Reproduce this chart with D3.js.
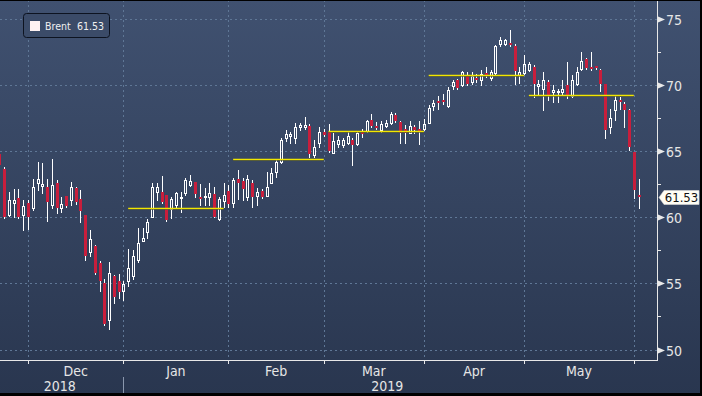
<!DOCTYPE html>
<html>
<head>
<meta charset="utf-8">
<script src="https://cdn.jsdelivr.net/npm/d3@7"></script>
<style>
  body { margin: 0; background: #000; }
  svg text { font-family: "Liberation Sans Narrow", "DejaVu Sans Condensed", "Arial Narrow", sans-serif; }
</style>
</head>
<body>
<div id="chart"></div>
<script>
"use strict"

// trading days on the chart
const dates = [
  "2018-11-23","2018-11-26","2018-11-27","2018-11-28","2018-11-29","2018-11-30",
  "2018-12-03","2018-12-04","2018-12-05","2018-12-06","2018-12-07",
  "2018-12-10","2018-12-11","2018-12-12","2018-12-13","2018-12-14",
  "2018-12-17","2018-12-18","2018-12-19","2018-12-20","2018-12-21",
  "2018-12-24","2018-12-26","2018-12-27","2018-12-28","2018-12-31",
  "2019-01-02","2019-01-03","2019-01-04",
  "2019-01-07","2019-01-08","2019-01-09","2019-01-10","2019-01-11",
  "2019-01-14","2019-01-15","2019-01-16","2019-01-17","2019-01-18",
  "2019-01-21","2019-01-22","2019-01-23","2019-01-24","2019-01-25",
  "2019-01-28","2019-01-29","2019-01-30","2019-01-31",
  "2019-02-01",
  "2019-02-04","2019-02-05","2019-02-06","2019-02-07","2019-02-08",
  "2019-02-11","2019-02-12","2019-02-13","2019-02-14","2019-02-15",
  "2019-02-18","2019-02-19","2019-02-20","2019-02-21","2019-02-22",
  "2019-02-25","2019-02-26","2019-02-27","2019-02-28",
  "2019-03-01",
  "2019-03-04","2019-03-05","2019-03-06","2019-03-07","2019-03-08",
  "2019-03-11","2019-03-12","2019-03-13","2019-03-14","2019-03-15",
  "2019-03-18","2019-03-19","2019-03-20","2019-03-21","2019-03-22",
  "2019-03-25","2019-03-26","2019-03-27","2019-03-28","2019-03-29",
  "2019-04-01","2019-04-02","2019-04-03","2019-04-04","2019-04-05",
  "2019-04-08","2019-04-09","2019-04-10","2019-04-11","2019-04-12",
  "2019-04-15","2019-04-16","2019-04-17","2019-04-18",
  "2019-04-22","2019-04-23","2019-04-24","2019-04-25","2019-04-26",
  "2019-04-29","2019-04-30",
  "2019-05-01","2019-05-02","2019-05-03",
  "2019-05-06","2019-05-07","2019-05-08","2019-05-09","2019-05-10",
  "2019-05-13","2019-05-14","2019-05-15","2019-05-16","2019-05-17",
  "2019-05-20","2019-05-21","2019-05-22","2019-05-23","2019-05-24",
  "2019-05-27","2019-05-28","2019-05-29","2019-05-30","2019-05-31",
  "2019-06-03","2019-06-04"
];

const open = [
  64.80,63.60,60.17,61.04,61.42,60.17,
  61.04,60.67,62.60,62.35,62.25,
  60.92,62.55,60.67,61.60,61.30,
  62.17,61.35,60.17,57.40,57.83,
  56.53,55.02,52.21,55.57,55.20,
  54.39,55.15,55.52,
  56.73,58.16,58.91,60.04,61.92,
  61.92,61.67,60.59,60.92,61.42,
  61.80,62.42,62.63,61.50,61.50,
  61.55,61.75,59.84,61.20,
  61.95,
  61.05,62.88,62.73,61.55,62.60,
  61.60,62.00,61.62,62.60,63.43,
  64.18,66.01,66.11,66.01,66.77,
  66.77,66.87,64.68,65.61,
  66.44,
  66.39,64.86,65.51,65.44,65.61,
  65.86,65.51,66.44,66.52,67.32,
  66.87,66.57,66.87,67.07,67.70,
  67.19,66.62,66.37,66.77,66.62,
  66.65,67.12,68.37,68.75,68.83,
  68.37,69.88,70.33,69.95,70.71,
  70.21,70.53,70.38,70.91,
  70.53,70.88,73.04,73.04,73.14,
  72.89,70.71,
  70.88,71.13,71.35,
  69.88,69.70,70.21,69.45,69.45,
  69.45,69.95,69.13,70.03,71.21,
  71.96,71.35,71.39,71.08,70.03,
  66.82,68.07,68.83,68.57,68.12,
  64.93,61.67
];

const high = [
  65.00,63.80,61.92,62.10,62.10,61.30,
  61.30,62.85,64.18,64.11,62.85,
  64.36,62.80,61.55,61.60,62.68,
  62.25,62.05,60.17,59.04,57.91,
  56.65,55.30,56.58,55.65,55.72,
  55.15,57.58,57.53,
  59.16,59.16,59.84,62.55,62.55,
  63.10,61.67,61.55,61.92,61.92,
  62.93,63.18,62.68,62.48,62.17,
  62.55,62.30,61.55,62.55,
  62.45,
  62.93,63.55,62.93,63.18,62.80,
  62.17,62.10,63.43,63.68,64.36,
  66.01,66.57,66.44,67.12,67.07,
  67.57,67.02,65.86,66.77,
  66.62,
  67.02,66.32,66.11,66.01,66.44,
  66.01,66.44,66.69,67.37,67.77,
  67.19,67.27,67.37,67.95,67.87,
  67.27,66.94,67.27,66.94,67.27,
  67.40,68.45,68.83,69.13,69.33,
  69.83,70.38,70.46,71.03,70.96,
  70.96,70.83,71.08,71.35,
  71.08,72.97,73.59,73.47,74.10,
  73.09,71.35,
  72.21,71.71,71.46,
  70.33,70.96,70.33,69.95,69.70,
  70.33,71.71,70.71,71.35,72.46,
  72.04,72.46,71.39,71.21,70.03,
  68.20,69.13,69.08,68.70,68.20,
  64.93,62.85
];

const low = [
  63.80,59.95,60.09,60.04,59.91,59.04,
  59.11,60.54,62.05,61.85,59.74,
  60.67,60.34,60.42,60.79,60.92,
  60.99,59.66,56.78,57.03,55.72,
  54.39,51.88,51.56,53.51,53.89,
  53.77,54.77,55.32,
  56.58,58.16,58.41,59.97,61.30,
  61.04,59.71,59.91,60.79,60.42,
  61.67,62.35,61.55,60.92,60.92,
  60.92,60.04,59.79,60.80,
  60.75,
  60.75,61.35,61.30,61.30,60.79,
  60.92,61.42,61.60,62.55,63.05,
  64.11,65.76,65.56,65.56,66.57,
  66.69,64.56,64.56,65.31,
  66.11,
  64.93,64.86,65.31,65.31,65.51,
  63.93,65.44,66.06,66.44,66.77,
  66.69,66.44,66.77,67.02,67.19,
  65.56,65.56,66.32,66.37,65.51,
  66.57,67.07,68.12,68.20,68.52,
  68.33,69.70,69.70,69.88,69.95,
  70.08,70.21,69.95,70.58,
  70.33,70.83,72.89,72.97,72.89,
  70.08,70.13,
  70.83,71.03,69.08,
  69.30,68.12,68.83,68.70,68.70,
  69.33,68.96,69.08,69.95,71.08,
  71.21,71.08,71.21,69.53,66.01,
  66.32,67.32,68.20,66.77,65.06,
  61.42,60.67
];

const close = [
  63.93,59.99,61.30,61.30,60.04,60.84,
  60.04,62.25,62.85,62.50,61.17,
  62.42,60.67,60.99,60.84,62.25,
  61.17,60.49,57.08,58.33,55.77,
  55.15,51.93,55.77,53.97,54.32,
  54.97,56.15,57.08,
  58.03,58.41,59.66,62.30,62.30,
  61.17,59.79,61.35,61.80,61.55,
  62.80,62.75,61.72,61.40,61.60,
  61.85,60.04,61.35,61.65,
  61.00,
  62.80,62.60,62.10,62.85,61.55,
  61.92,61.50,62.30,63.35,64.18,
  65.86,66.27,66.27,66.82,66.94,
  66.94,64.76,65.26,66.44,
  66.19,
  65.01,65.76,65.86,65.86,66.11,
  65.44,66.32,66.27,67.27,66.87,
  66.77,67.02,67.12,67.82,67.27,
  66.32,66.32,66.87,66.57,66.52,
  67.02,68.27,68.62,68.62,68.70,
  69.63,70.21,69.78,70.96,70.08,
  70.63,70.33,70.83,70.71,
  70.96,72.89,73.39,73.34,72.97,
  71.03,70.96,
  71.59,71.59,70.08,
  70.08,70.38,69.13,69.63,69.50,
  69.70,69.22,70.38,70.96,71.79,
  71.28,71.21,71.28,70.03,66.57,
  67.52,68.88,68.70,68.12,65.26,
  62.05,61.53
];

// monthly average lines (yellow)
const avgStart = ["2019-01-03","2019-02-04","2019-03-04","2019-04-02","2019-05-02"];
const avgEnd   = ["2019-01-31","2019-03-01","2019-04-01","2019-05-01","2019-06-03"];
const avgLevel = [60.67, 64.36, 66.47, 70.71, 69.25];

// axis labels
const yTicks = [50, 55, 60, 65, 70, 75];
const yMinor = [52.5, 57.5, 62.5, 67.5, 72.5];
const monthNames = ["Dec", "Jan", "Feb", "Mar", "Apr", "May"];
const yearNames = ["2018", "2019"];
const seriesName = "Brent";
const lastValue = 61.53;

const width = 702, height = 396;
const plotRight = 657, plotBottom = 360;
const upColor = "#ffffff", downColor = "#c81e3c";
const gridColor = "#5f7796", axisColor = "#e8e8e8", textColor = "#e6e6e6";

const svg = d3.select("#chart")
  .append("svg")
    .attr("width", width)
    .attr("height", height);

// background gradient
const defs = svg.append("defs");
const grad = defs.append("linearGradient")
  .attr("id", "bg").attr("x1", 0).attr("y1", 0).attr("x2", 0).attr("y2", 1);
grad.append("stop").attr("offset", "0%").attr("stop-color", "#405170");
grad.append("stop").attr("offset", "100%").attr("stop-color", "#29364f");
defs.append("clipPath").attr("id", "plotclip")
  .append("rect").attr("x", 0).attr("y", 0).attr("width", plotRight).attr("height", plotBottom);

svg.append("rect")
  .attr("width", width).attr("height", height)
  .attr("fill", "url(#bg)");

// scales
const x = d3.scalePoint()
  .domain(dates)
  .range([-0.6, 638.6]);
const y = d3.scaleLinear()
  .domain([50, 75])
  .range([349.5, 18.5]);

const px = d => Math.round(x(d));
const py = v => Math.round(y(v));

// first trading day of each month -> month ticks
const monthStarts = dates.filter((d, i) => i > 0 && d.slice(0, 7) !== dates[i - 1].slice(0, 7));

// grid
const grid = svg.append("g");
grid.selectAll(".hgrid")
  .data(yTicks)
  .enter().append("line")
    .attr("x1", 0).attr("x2", plotRight)
    .attr("y1", d => py(d) + 0.5).attr("y2", d => py(d) + 0.5)
    .attr("stroke", gridColor).attr("stroke-dasharray", "2,3");
grid.selectAll(".vgrid")
  .data(monthStarts)
  .enter().append("line")
    .attr("x1", d => px(d) + 0.5).attr("x2", d => px(d) + 0.5)
    .attr("y1", 0).attr("y2", plotBottom)
    .attr("stroke", gridColor).attr("stroke-dasharray", "2,3");

// candles
const candles = dates.map((d, i) => ({date: d, o: open[i], h: high[i], l: low[i], c: close[i]}));
const plot = svg.append("g").attr("clip-path", "url(#plotclip)");

const cg = plot.selectAll(".candle")
  .data(candles)
  .enter().append("g");

cg.each(function(d) {
  const g = d3.select(this);
  const cx = px(d.date);
  const top = py(Math.max(d.o, d.c));
  const bot = py(Math.min(d.o, d.c));
  const up = d.c >= d.o;
  if (up) {
    g.append("line")
      .attr("x1", cx + 0.5).attr("x2", cx + 0.5)
      .attr("y1", py(d.h)).attr("y2", top)
      .attr("stroke", upColor);
    g.append("line")
      .attr("x1", cx + 0.5).attr("x2", cx + 0.5)
      .attr("y1", bot + 1).attr("y2", py(d.l) + 1)
      .attr("stroke", upColor);
    g.append("rect")
      .attr("x", cx - 0.5).attr("y", top + 0.5)
      .attr("width", 2).attr("height", Math.max(bot - top, 1))
      .attr("fill", "none").attr("stroke", upColor);
  } else {
    g.append("line")
      .attr("x1", cx + 0.5).attr("x2", cx + 0.5)
      .attr("y1", py(d.h)).attr("y2", py(d.l) + 1)
      .attr("stroke", upColor);
    g.append("rect")
      .attr("x", cx - 1).attr("y", top)
      .attr("width", 3).attr("height", Math.max(bot - top, 2))
      .attr("fill", downColor);
  }
});

// monthly average lines
const avgIdx = d3.range(avgLevel.length);
plot.selectAll(".avgshadow")
  .data(avgIdx)
  .enter().append("line")
    .attr("x1", i => x(avgStart[i])).attr("x2", i => x(avgEnd[i]))
    .attr("y1", i => py(avgLevel[i]) + 1.5).attr("y2", i => py(avgLevel[i]) + 1.5)
    .attr("stroke", "#1c2438").attr("stroke-opacity", 0.6);
plot.selectAll(".avg")
  .data(avgIdx)
  .enter().append("line")
    .attr("x1", i => x(avgStart[i])).attr("x2", i => x(avgEnd[i]))
    .attr("y1", i => py(avgLevel[i]) + 0.5).attr("y2", i => py(avgLevel[i]) + 0.5)
    .attr("stroke", "#f2e600").attr("stroke-width", 1.3);

// right axis
const ra = svg.append("g");
ra.append("line")
  .attr("x1", plotRight + 0.5).attr("x2", plotRight + 0.5)
  .attr("y1", 0).attr("y2", plotBottom + 1)
  .attr("stroke", axisColor);
ra.selectAll(".tri")
  .data(yTicks)
  .enter().append("path")
    .attr("d", d => {
      const yy = py(d) + 0.5;
      return "M" + (plotRight + 1) + "," + (yy - 3) + "L" + (plotRight + 8) + "," + yy + "L" + (plotRight + 1) + "," + (yy + 3) + "Z";
    })
    .attr("fill", axisColor);
ra.selectAll(".minor")
  .data(yMinor)
  .enter().append("line")
    .attr("x1", plotRight).attr("x2", plotRight + 4)
    .attr("y1", d => py(d) + 0.5).attr("y2", d => py(d) + 0.5)
    .attr("stroke", axisColor);
ra.selectAll(".ylab")
  .data(yTicks)
  .enter().append("text")
    .attr("x", plotRight + 9)
    .attr("y", d => py(d) + 0.5)
    .attr("dy", "0.36em")
    .attr("fill", textColor)
    .style("font-size", "14px")
    .text(d => d);

// last value tag
const ly = py(lastValue) + 0.5;
ra.append("path")
  .attr("d", "M659," + ly + "L664," + (ly - 7) + "L699," + (ly - 7) + "L699," + (ly + 7) + "L664," + (ly + 7) + "Z")
  .attr("fill", "#fffdf4").attr("stroke", "#d8d8d8").attr("stroke-width", 0.6);
ra.append("text")
  .attr("x", 681.5).attr("y", ly)
  .attr("dy", "0.36em")
  .attr("text-anchor", "middle")
  .attr("fill", "#111")
  .style("font-size", "13px")
  .text(lastValue.toFixed(2));

// bottom axis
const ba = svg.append("g");
ba.append("line")
  .attr("x1", 0).attr("x2", plotRight + 1)
  .attr("y1", plotBottom + 0.5).attr("y2", plotBottom + 0.5)
  .attr("stroke", axisColor);
ba.selectAll(".xtick")
  .data(monthStarts)
  .enter().append("line")
    .attr("x1", d => px(d) + 0.5).attr("x2", d => px(d) + 0.5)
    .attr("y1", plotBottom).attr("y2", plotBottom + 4)
    .attr("stroke", axisColor);
ba.selectAll(".mlab")
  .data(monthNames)
  .enter().append("text")
    .attr("x", (d, i) => (x(monthStarts[i]) + x(monthStarts[i + 1])) / 2)
    .attr("y", 376)
    .attr("text-anchor", "middle")
    .attr("fill", textColor)
    .style("font-size", "14px")
    .text(d => d);

// year labels and separator (year changes at the January tick)
const yearX = px(monthStarts[1]) + 0.5;
ba.append("line")
  .attr("x1", yearX).attr("x2", yearX)
  .attr("y1", 377).attr("y2", 393)
  .attr("stroke", "#8a97ad");
ba.selectAll(".ylabel")
  .data(yearNames)
  .enter().append("text")
    .attr("x", (d, i) => i === 0 ? yearX / 2 - 2 : (yearX + plotRight) / 2 - 3)
    .attr("y", 391)
    .attr("text-anchor", "middle")
    .attr("fill", textColor)
    .style("font-size", "14px")
    .text(d => d);

// legend
const lg = svg.append("g");
lg.append("rect")
  .attr("x", 23.5).attr("y", 13.5)
  .attr("width", 86).attr("height", 24)
  .attr("rx", 3)
  .attr("fill", "#3b4b68").attr("stroke", "#0d1320");
lg.append("rect")
  .attr("x", 30).attr("y", 21)
  .attr("width", 10).attr("height", 10)
  .attr("fill", "#fff2f2");
lg.append("text")
  .attr("x", 45).attr("y", 30)
  .attr("fill", "#f0f0f0")
  .style("font-size", "10.5px")
  .text(seriesName);
lg.append("text")
  .attr("x", 77).attr("y", 30)
  .attr("fill", "#f0f0f0")
  .style("font-size", "10.5px")
  .text(lastValue.toFixed(2));

// frame edges
svg.append("rect").attr("x", 0).attr("y", 0).attr("width", width).attr("height", 1).attr("fill", "#000");
svg.append("rect").attr("x", 700).attr("y", 0).attr("width", 2).attr("height", height).attr("fill", "#000");
svg.append("rect").attr("x", 0).attr("y", 393).attr("width", width).attr("height", 3).attr("fill", "#000");
</script>
</body>
</html>
